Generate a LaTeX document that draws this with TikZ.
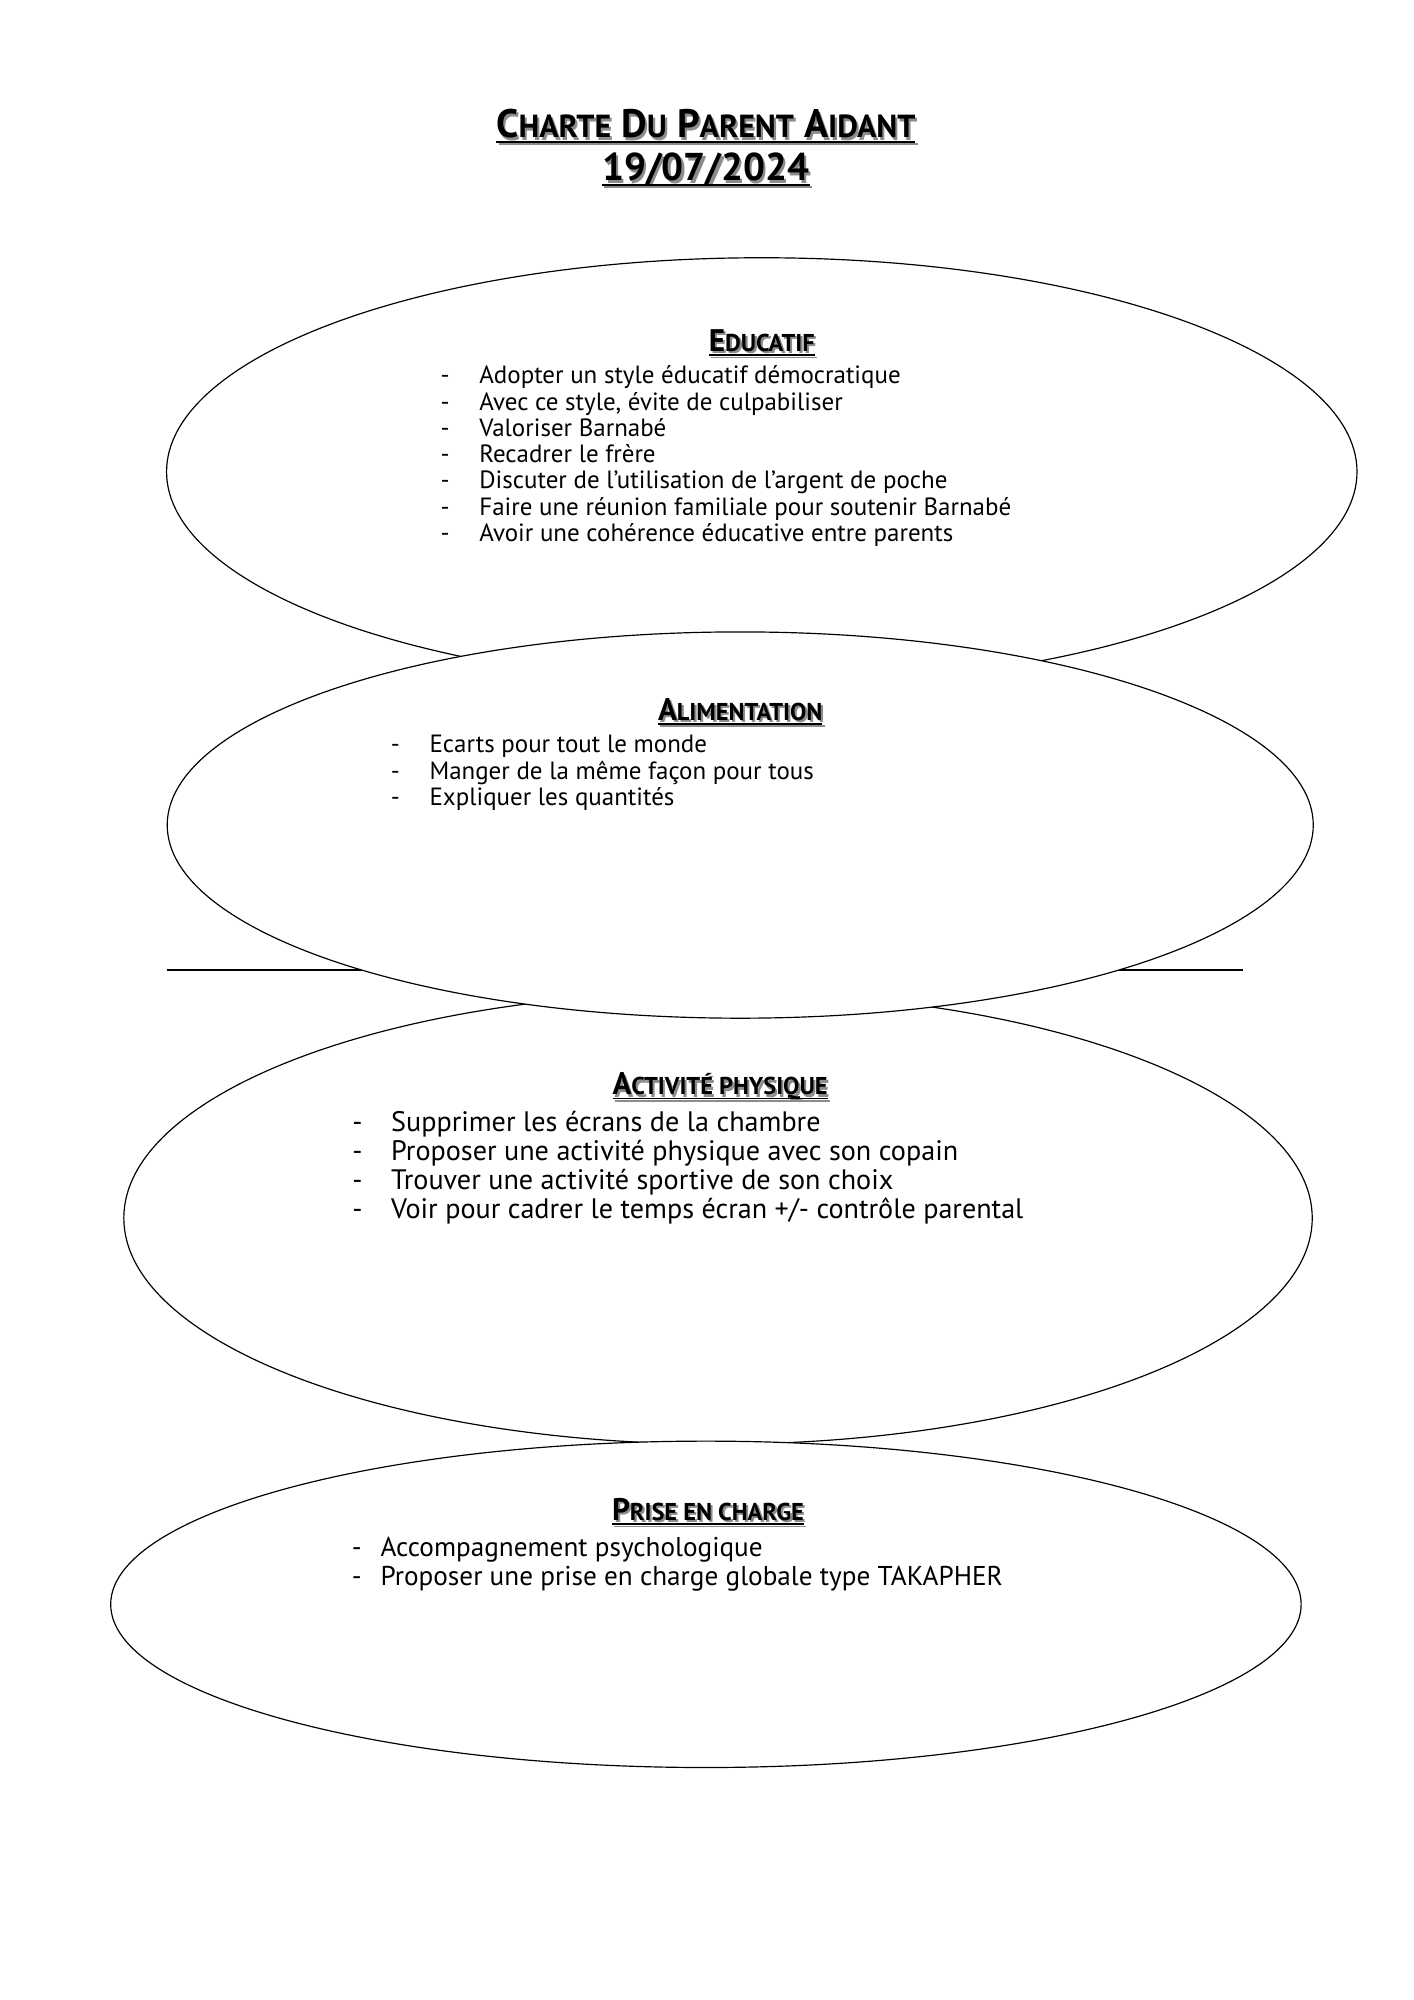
\documentclass[tikz,border=0pt]{standalone}
\usepackage{fontspec}
\setmainfont{PT Sans}
\usetikzlibrary{shapes.geometric,positioning}

% ombre portee grise sous le texte
\newcommand\ombre[1]{\leavevmode\rlap{\kern0.9pt\raisebox{-1pt}{\color{black!45}#1}}#1}
\newcommand\souligne[1]{\setbox0\hbox{#1}\rlap{\raisebox{-2pt}{\rule{\wd0}{0.75pt}}}\box0}
\newcommand\pct[1]{{\fontsize{13.5}{15}\selectfont #1}}
\newcommand\pcr[1]{{\fontsize{10.3}{12}\selectfont #1}}
\newcommand\tiret[1][16.4pt]{\makebox[#1][l]{-}}

\begin{document}
\begin{tikzpicture}[x=1cm, y=-1cm,
    bulle/.style={ellipse, draw, fill=white, line width=0.5pt, inner sep=0pt},
    titre/.style={font=\bfseries\fontsize{16.8}{19}\selectfont, inner sep=0pt},
    rubrique/.style={font=\bfseries\fontsize{13.2}{15}\selectfont, inner sep=0pt},
    liste/.style={align=left, anchor=north west, inner sep=0pt, font=\fontsize{10.55}{11.1}\selectfont},
    grandeliste/.style={liste, font=\fontsize{11.9}{12.2}\selectfont}]
    \useasboundingbox (0,0) rectangle (21,29.72);

    \node (titre) [titre] at (10.49,1.89) {\ombre{\souligne{C\pct{HARTE} D\pct{U} P\pct{ARENT} A\pct{IDANT}}}};
    \node (date) [font=\bfseries\fontsize{16.4}{19}\selectfont, inner sep=0pt] at (10.49,2.54) {\ombre{\souligne{19/07/2024}}};

    % bulles
    \node (educ) [bulle, minimum width=17.69cm, minimum height=6.36cm] at (11.32,7.01) {};
    \coordinate (regleg) at (2.48,14.42);
    \coordinate (regled) at (18.47,14.42);
    \draw[line width=0.85pt] (regleg) -- (regled);
    \node (acti) [bulle, minimum width=17.66cm, minimum height=6.72cm] at (10.67,18.10) {};
    \node (prise) [bulle, minimum width=17.69cm, minimum height=4.85cm] at (10.49,23.84) {};
    \node (alim) [bulle, minimum width=17.03cm, minimum height=5.74cm] at (11.00,12.26) {};

    \node (educt) [rubrique] at (11.32,5.11) {\ombre{\souligne{E\pcr{DUCATIF}}}};
    \node (educl) [liste] at (6.54,5.43) {\tiret Adopter un style éducatif démocratique\\
        \tiret Avec ce style, évite de culpabiliser\\
        \tiret Valoriser Barnabé\\
        \tiret Recadrer le frère\\
        \tiret Discuter de l’utilisation de l’argent de poche\\
        \tiret Faire une réunion familiale pour soutenir Barnabé\\
        \tiret Avoir une cohérence éducative entre parents};

    \node (alimt) [rubrique] at (11.00,10.59) {\ombre{\souligne{A\pcr{LIMENTATION}}}};
    \node (aliml) [liste] at (5.80,10.92) {\tiret Ecarts pour tout le monde\\
        \tiret Manger de la même façon pour tous\\
        \tiret Expliquer les quantités};

    \node (actit) [rubrique] at (10.70,16.16) {\ombre{\souligne{A\pcr{CTIVITÉ PHYSIQUE}}}};
    \node (actil) [grandeliste] at (5.23,16.51) {\tiret Supprimer les écrans de la chambre\\
        \tiret Proposer une activité physique avec son copain\\
        \tiret Trouver une activité sportive de son choix\\
        \tiret Voir pour cadrer le temps écran +/- contrôle parental};

    \node (priset) [rubrique] at (10.52,22.48) {\ombre{\souligne{P\pcr{RISE EN CHARGE}}}};
    \node (prisel) [grandeliste, font=\fontsize{11.5}{12.2}\selectfont] at (5.22,22.84) {\tiret[12.2pt]Accompagnement psychologique\\
        \tiret[12.2pt]Proposer une prise en charge globale type TAKAPHER};
\end{tikzpicture}
\end{document}
